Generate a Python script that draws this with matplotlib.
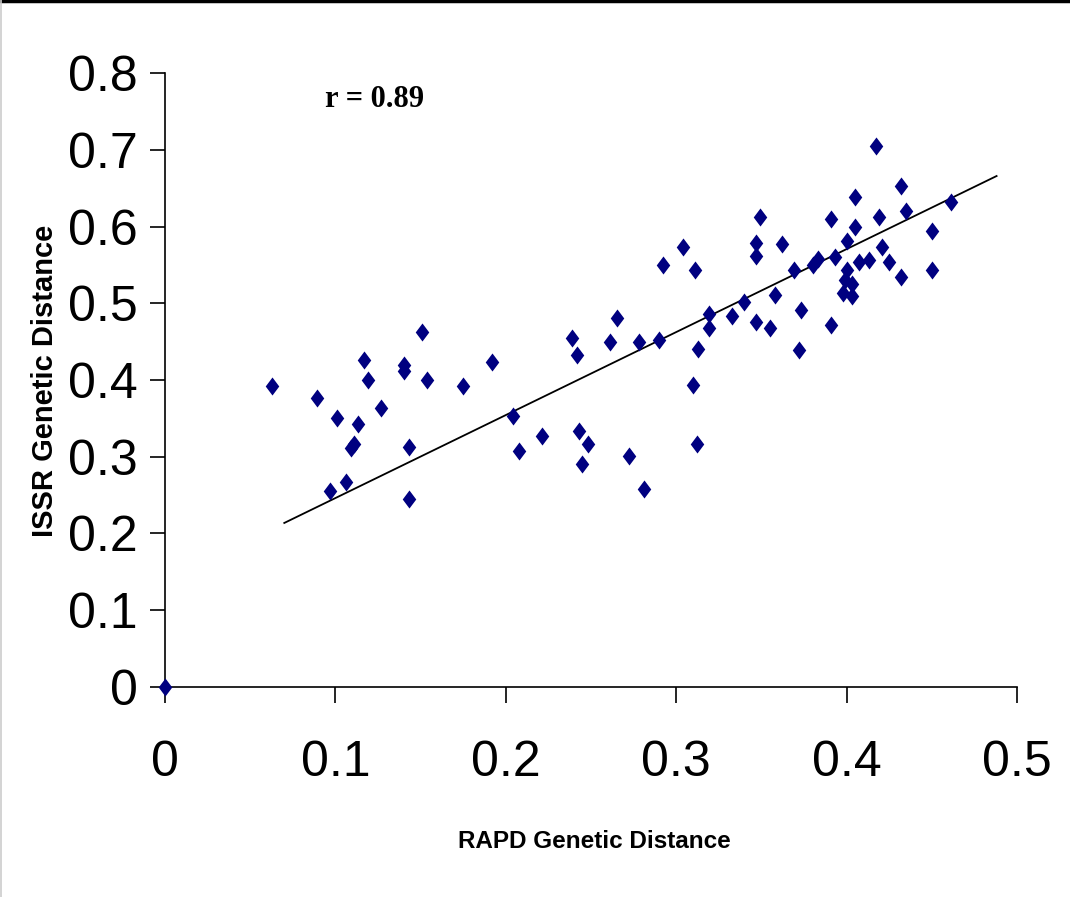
import matplotlib
matplotlib.use("Agg")
import matplotlib.pyplot as plt
from matplotlib.lines import Line2D

# values
rapd = [0.063, 0.089, 0.101, 0.113, 0.117, 0.119, 0.127, 0.140, 0.140, 0.151,
        0.154, 0.175, 0.192, 0.204, 0.221, 0.208, 0.109, 0.111, 0.143, 0.106,
        0.097, 0.143, 0.239, 0.242, 0.243, 0.248, 0.245, 0.261, 0.265, 0.272,
        0.278, 0.281, 0.290, 0.292, 0.304, 0.311, 0.310, 0.313, 0.312, 0.319,
        0.319, 0.333, 0.340, 0.347, 0.347, 0.349, 0.347, 0.355, 0.358, 0.362,
        0.369, 0.373, 0.372, 0.380, 0.383, 0.391, 0.393, 0.391, 0.400, 0.400,
        0.399, 0.403, 0.398, 0.403, 0.405, 0.405, 0.407, 0.413, 0.417, 0.419,
        0.421, 0.425, 0.432, 0.432, 0.435, 0.450, 0.450, 0.461, 0.0]
issr = [0.392, 0.377, 0.351, 0.343, 0.426, 0.400, 0.363, 0.420, 0.412, 0.462,
        0.400, 0.392, 0.423, 0.353, 0.327, 0.307, 0.311, 0.317, 0.312, 0.267,
        0.255, 0.245, 0.455, 0.433, 0.334, 0.316, 0.290, 0.449, 0.481, 0.301,
        0.449, 0.258, 0.452, 0.550, 0.573, 0.544, 0.393, 0.441, 0.317, 0.486,
        0.468, 0.484, 0.502, 0.579, 0.562, 0.612, 0.475, 0.468, 0.511, 0.577,
        0.544, 0.491, 0.439, 0.550, 0.558, 0.610, 0.560, 0.472, 0.581, 0.543,
        0.531, 0.525, 0.514, 0.509, 0.638, 0.600, 0.554, 0.557, 0.705, 0.613,
        0.573, 0.554, 0.653, 0.534, 0.621, 0.594, 0.544, 0.632, 0.0]

# trend line as drawn in the reference
trend_x = [0.070, 0.488]
trend_y = [0.2135, 0.666]

x_ticks = [0, 0.1, 0.2, 0.3, 0.4, 0.5]
x_labels = ["0", "0.1", "0.2", "0.3", "0.4", "0.5"]
y_ticks = [0, 0.1, 0.2, 0.3, 0.4, 0.5, 0.6, 0.7, 0.8]
y_labels = ["0", "0.1", "0.2", "0.3", "0.4", "0.5", "0.6", "0.7", "0.8"]

plt.rcParams['font.family'] = ['Liberation Sans', 'DejaVu Sans']

fig = plt.figure(figsize=(10.7, 8.97), dpi=100)
ax = fig.add_axes([0.1542, 0.2345, 0.7963, 0.6838])

diamond = [(0, 1), (0.75, 0), (0, -1), (-0.75, 0), (0, 1)]
ax.plot(rapd, issr, linestyle='none', marker=diamond, markersize=13,
        color='#000080', markeredgewidth=0, clip_on=False, zorder=3)
ax.plot(trend_x, trend_y, color='black', linewidth=1.3, zorder=2)

ax.set_xlim(0, 0.5)
ax.set_ylim(0, 0.8)
ax.set_xticks(x_ticks)
ax.set_xticklabels(x_labels)
ax.set_yticks(y_ticks)
ax.set_yticklabels(y_labels)

for side in ['top', 'right']:
    ax.spines[side].set_visible(False)
for side in ['left', 'bottom']:
    ax.spines[side].set_linewidth(1.2)

ax.tick_params(axis='x', direction='out', length=11.5, width=1.2,
               labelsize=36, pad=27)
ax.tick_params(axis='y', direction='out', length=10.8, width=1.2,
               labelsize=36, pad=9)

ax.text(0.094, 0.756, "r = 0.89", family=['Liberation Serif', 'DejaVu Serif'],
        fontweight='bold', fontsize=22, va='baseline', ha='left')

fig.text(594 / 1070, 1 - 841 / 897, "RAPD Genetic Distance", fontsize=17.5,
         fontweight='bold', ha='center', va='center')
fig.text(45 / 1070, 1 - 381 / 897, "ISSR Genetic Distance", fontsize=21,
         fontweight='bold', rotation=90, ha='center', va='center')

# frame lines of the original picture
fig.add_artist(Line2D([0, 1], [0.9985, 0.9985], transform=fig.transFigure,
                      color='black', linewidth=2.5))
fig.add_artist(Line2D([0.001, 0.001], [0, 1], transform=fig.transFigure,
                      color='#cccccc', linewidth=1.2))

fig.savefig("out.png", dpi=100)
